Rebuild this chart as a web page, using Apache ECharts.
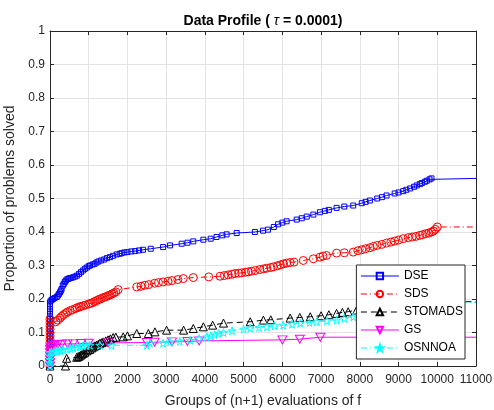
<!DOCTYPE html>
<html>
<head>
<meta charset="utf-8">
<script src="https://cdn.jsdelivr.net/npm/echarts@6/dist/echarts.min.js"></script>
<style>html,body{margin:0;padding:0;background:#fff}#c{width:494px;height:410px}</style>
</head>
<body>
<div id="c"></div>
<script>
var xTicks = [0,1000,2000,3000,4000,5000,6000,7000,8000,9000,10000,11000];
var yTicks = [0,0.1,0.2,0.3,0.4,0.5,0.6,0.7,0.8,0.9,1];
var seriesNames = ['DSE','SDS','STOMADS','GS','OSNNOA'];

var dseData = [[0,0],[0,0.01],[0,0.02],[0,0.03],[0,0.04],[0,0.05],[0,0.06],[0,0.07],[0,0.08],[0,0.09],[0,0.1],[0,0.11],[0,0.12],[0,0.13],[0,0.14],[0,0.15],[0,0.16],[0,0.17],[0,0.18],[0,0.19],
[20,0.195],[50,0.198],[80,0.2],[120,0.203],[173,0.206],[200,0.21],[230,0.215],[260,0.22],[280,0.225],[300,0.23],[330,0.24],[355,0.245],[380,0.25],[400,0.253],[430,0.258],[470,0.26],[500,0.262],[550,0.263],[600,0.265],[650,0.267],[700,0.27],[750,0.275],[800,0.28],[850,0.285],[900,0.29],[950,0.294],[1000,0.298],[1033,0.3],[1100,0.303],[1150,0.305],[1200,0.309],[1250,0.312],[1320,0.315],[1400,0.318],[1470,0.322],[1550,0.325],[1630,0.329],[1723,0.333],[1800,0.335],[1850,0.337],[1920,0.339],[2000,0.34],[2100,0.342],[2200,0.343],[2300,0.345],[2400,0.347],[2600,0.35],[2920,0.355],[3100,0.36],[3400,0.365],[3550,0.368],[3700,0.372],[3960,0.377],[4150,0.38],[4300,0.385],[4450,0.39],[4560,0.393],[4820,0.397],[5290,0.4],[5500,0.404],[5630,0.407],[5780,0.415],[5890,0.423],[6000,0.428],[6110,0.432],[6370,0.437],[6500,0.441],[6630,0.446],[6800,0.452],[6970,0.459],[7100,0.463],[7200,0.466],[7400,0.472],[7600,0.476],[7830,0.479],[8050,0.486],[8150,0.49],[8260,0.494],[8450,0.5],[8570,0.504],[8690,0.509],[8900,0.515],[9000,0.518],[9120,0.522],[9200,0.526],[9300,0.53],[9400,0.535],[9470,0.539],[9550,0.543],[9600,0.546],[9680,0.55],[9730,0.553],[9800,0.557],[9850,0.56],[11000,0.56]];

var sdsData = [[0,0],[0,0.01],[0,0.02],[0,0.03],[0,0.04],[0,0.05],[0,0.06],[0,0.07],[0,0.08],[0,0.09],[0,0.1],[0,0.11],[0,0.12],[0,0.13],[0,0.14],
[150,0.132],[200,0.137],[258,0.143],[300,0.148],[350,0.153],[400,0.157],[450,0.161],[516,0.165],[580,0.168],[650,0.171],[700,0.174],[760,0.176],[800,0.178],[860,0.18],[920,0.182],[1000,0.185],[1050,0.187],[1100,0.189],[1150,0.192],[1200,0.195],[1250,0.198],[1300,0.2],[1350,0.203],[1400,0.205],[1450,0.207],[1500,0.21],[1550,0.212],[1600,0.215],[1650,0.218],[1700,0.221],[1760,0.228],[2240,0.236],[2350,0.238],[2450,0.241],[2550,0.243],[2700,0.247],[2800,0.249],[2920,0.251],[3050,0.253],[3150,0.255],[3300,0.258],[3440,0.261],[3700,0.264],[4100,0.266],[4390,0.268],[4500,0.27],[4600,0.272],[4700,0.274],[4780,0.276],[4870,0.277],[4950,0.278],[5050,0.28],[5120,0.281],[5200,0.283],[5300,0.285],[5420,0.288],[5520,0.29],[5600,0.292],[5700,0.294],[5770,0.296],[5870,0.299],[5950,0.302],[6030,0.305],[6110,0.307],[6200,0.309],[6300,0.31],[6540,0.315],[6800,0.32],[6970,0.325],[7050,0.328],[7140,0.33],[7400,0.337],[7600,0.338],[7830,0.34],[7950,0.344],[8050,0.347],[8150,0.35],[8260,0.353],[8350,0.357],[8450,0.36],[8570,0.363],[8690,0.367],[8800,0.37],[8900,0.373],[9000,0.376],[9120,0.38],[9250,0.383],[9350,0.385],[9450,0.387],[9550,0.39],[9620,0.392],[9700,0.395],[9780,0.397],[9850,0.4],[9900,0.403],[9950,0.408],[10000,0.415],[11000,0.415]];

var stomadsData = [[0,0],[400,0],[430,0.023],[690,0.026],[730,0.028],[760,0.03],[800,0.033],[830,0.036],[860,0.038],[900,0.041],[950,0.045],[990,0.048],[1030,0.05],[1080,0.054],[1120,0.057],[1160,0.06],[1200,0.062],[1250,0.065],[1290,0.068],[1340,0.07],[1380,0.072],[1440,0.075],[1500,0.078],[1560,0.081],[1630,0.085],[1700,0.086],[1890,0.087],[2000,0.09],[2240,0.097],[2540,0.097],[2710,0.102],[3010,0.107],[3450,0.107],[3700,0.112],[3960,0.117],[4200,0.122],[4480,0.128],[5170,0.132],[5510,0.137],[5700,0.138],[6200,0.143],[6450,0.145],[6720,0.147],[7000,0.15],[7200,0.153],[7400,0.157],[7550,0.16],[7700,0.162],[7920,0.167],[8100,0.17],[8500,0.175],[9000,0.183],[9500,0.19],[9900,0.192],[11000,0.192]];

var gsData = [[0,0],[0,0.01],[0,0.02],[0,0.03],[0,0.04],[0,0.05],[20,0.055],[60,0.06],[120,0.062],[200,0.064],[300,0.065],[450,0.066],[600,0.066],[800,0.067],[1000,0.068],[1500,0.069],[2500,0.07],[2700,0.071],[3150,0.072],[3550,0.073],[3850,0.075],[6000,0.078],[6450,0.08],[6980,0.086],[11000,0.086]];

var osnnoaData = [[0,0],[0,0.01],[0,0.02],[0,0.03],[0,0.04],[40,0.041],[100,0.042],[150,0.043],[200,0.045],[270,0.046],[340,0.048],[450,0.05],[520,0.052],[600,0.054],[690,0.057],[770,0.058],[850,0.06],[940,0.061],[1030,0.062],[1290,0.062],[1590,0.062],[2500,0.062],[2580,0.068],[2920,0.068],[3100,0.072],[3350,0.074],[3620,0.077],[3850,0.082],[4050,0.087],[4150,0.09],[4250,0.093],[4350,0.097],[4480,0.1],[4700,0.105],[5000,0.11],[5170,0.113],[5400,0.115],[5600,0.117],[5800,0.12],[6020,0.122],[6250,0.125],[6460,0.128],[6700,0.13],[6890,0.132],[7150,0.135],[7400,0.137],[7600,0.142],[7830,0.147],[8000,0.15],[8500,0.16],[9000,0.17],[9500,0.18],[9900,0.19],[11000,0.19]];

function withLastNoSymbol(arr){
  return arr.map(function(p,i){
    if(i===arr.length-1) return {value:p, symbol:'none'};
    return p;
  });
}
var FONT = 'Liberation Sans';
var axisCol = '#262626';
var downTri = 'path://M0,0 L10,0 L5,9 Z';
var star = 'path://M50,0 L61,35 L98,35 L68,57 L79,91 L50,70 L21,91 L32,57 L2,35 L39,35 Z';

function mk(name, data, color, symbol, size, ltype){
  return {
    name:name, type:'line', data:withLastNoSymbol(data),
    xAxisIndex:0, yAxisIndex:0,
    symbol:symbol, symbolSize:size,
    lineStyle:{color:color, width:1, type:ltype},
    itemStyle:{color:'rgba(255,255,255,0)', borderColor:color, borderWidth:1},
    emphasis:{disabled:true},
    silent:true, animation:false
  };
}

var chart = echarts.init(document.getElementById('c'), null, {renderer:'canvas'});
var yFmt = function(v){ return String(Math.round(v*10)/10); };
var xFmt = function(v){ return String(v); };
chart.setOption({
  animation:false,
  backgroundColor:'#fff',
  title:{
    text:'Data Profile ( {t|τ} = 0.0001)',
    left:258, top:9, textAlign:'center',
    textStyle:{fontFamily:FONT, fontSize:14, fontWeight:'bold', color:'#000',
      rich:{t:{fontFamily:FONT, fontSize:14, fontStyle:'italic', fontWeight:'normal', color:'#000'}}}
  },
  grid:{left:50, right:18, top:31, bottom:44, containLabel:false, outerBoundsMode:'none'},
  legend:{
    data:seriesNames, orient:'vertical', right:29, top:265,
    backgroundColor:'#fff', borderColor:axisCol, borderWidth:1,
    padding:[5,2,5,4], itemGap:6, itemWidth:38, itemHeight:8,
    textStyle:{fontFamily:FONT, fontSize:12, color:'#000'},
    lineStyle:{width:1},
    selectedMode:false
  },
  xAxis:[{
    type:'value', min:0, max:11000, interval:1000, position:'bottom',
    name:'Groups of (n+1) evaluations of f', nameLocation:'middle', nameGap:28,
    nameTextStyle:{fontFamily:FONT, fontSize:14, color:axisCol},
    axisLine:{show:true, lineStyle:{color:axisCol, width:1}},
    axisTick:{show:true, inside:true, length:4, lineStyle:{color:axisCol}},
    axisLabel:{fontFamily:FONT, fontSize:12, color:axisCol, margin:8, formatter:xFmt},
    splitLine:{show:true, lineStyle:{color:'#e3e3e3', width:1}}
  },{
    type:'value', min:0, max:11000, interval:1000, position:'top',
    axisLine:{show:true, onZero:false, lineStyle:{color:axisCol, width:1}},
    axisTick:{show:true, inside:true, length:4, lineStyle:{color:axisCol}},
    axisLabel:{show:false}, splitLine:{show:false}
  }],
  yAxis:[{
    type:'value', min:0, max:1, interval:0.1, position:'left',
    name:'Proportion of problems solved', nameLocation:'middle', nameGap:28,
    nameTextStyle:{fontFamily:FONT, fontSize:14, color:axisCol},
    axisLine:{show:true, lineStyle:{color:axisCol, width:1}},
    axisTick:{show:true, inside:true, length:4, lineStyle:{color:axisCol}},
    axisLabel:{fontFamily:FONT, fontSize:12, color:axisCol, margin:5, formatter:yFmt},
    splitLine:{show:true, lineStyle:{color:'#e3e3e3', width:1}}
  },{
    type:'value', min:0, max:1, interval:0.1, position:'right',
    axisLine:{show:true, onZero:false, lineStyle:{color:axisCol, width:1}},
    axisTick:{show:true, inside:true, length:4, lineStyle:{color:axisCol}},
    axisLabel:{show:false}, splitLine:{show:false}
  }],
  series:[
    mk('DSE', dseData, '#0000ff', 'rect', 5, 'solid'),
    mk('SDS', sdsData, '#ff0000', 'circle', 8, [6,3,1,3]),
    mk('STOMADS', stomadsData, '#000000', 'triangle', 8, [6,4]),
    mk('GS', gsData, '#ff00ff', downTri, [9,8], 'solid'),
    mk('OSNNOA', osnnoaData, '#00ffff', star, 8, [6,3,1,3])
  ]
});
</script>
</body>
</html>
